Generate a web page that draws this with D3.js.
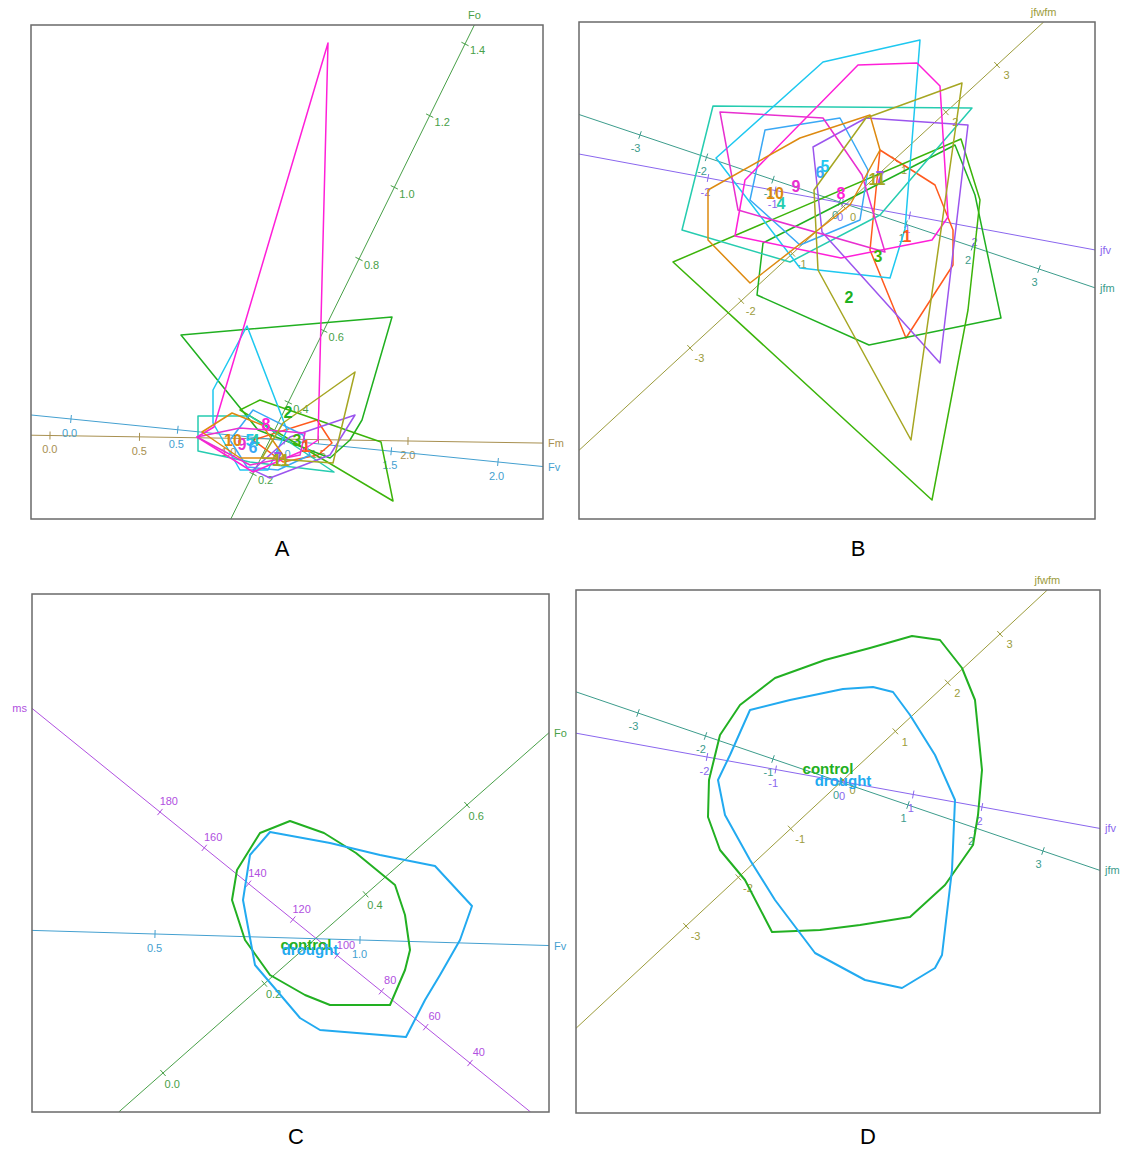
<!DOCTYPE html>
<html><head><meta charset="utf-8">
<script src="https://cdn.jsdelivr.net/npm/d3@7"></script>
<style>body{margin:0;background:#fff}svg{display:block}</style>
</head><body><svg id="c" width="1121" height="1149"></svg>
<script>
// ---------------- DATA ----------------
const groupNames = ["1","2","3","4","5","6","7","8","9","10","11"];
const treatmentNames = ["control","drought"];

// Panel A: convex hulls of groups in biplot units (x, y)
const hullsA = [
  [[0.03,0],[0.67,0.2],[0.82,-0.03],[0.68,-0.15],[0.33,-0.22]],
  [[-0.69,1.05],[1.42,1.23],[1.12,0.2],[1.0,0],[0.8,-0.18],[0.08,0.1]],
  [[-0.1,0.3],[0.1,0.4],[1.31,-0.02],[1.43,-0.61]],
  [[-0.52,0.24],[0,0.24],[0.84,-0.32],[0,-0.22],[-0.52,-0.11]],
  [[-0.03,1.14],[0.37,0.1],[0.18,-0.3],[-0.1,-0.3],[-0.37,0.17],[-0.37,0.5]],
  [[0.03,0.3],[0.53,0.05],[0.6,-0.15],[0.28,-0.3],[-0.03,-0.27],[-0.2,0]],
  [[0.4,0.03],[1.05,0.25],[0.8,-0.15],[0.2,-0.38],[0.03,-0.3]],
  [[0.78,3.97],[0.68,0],[0.5,-0.12],[0.03,-0.32],[-0.53,0.03],[-0.36,0.13]],
  [[-0.53,0.03],[-0.1,0.12],[0.55,0.07],[0.5,-0.15],[0,-0.25]],
  [[-0.48,0.08],[-0.18,0.27],[0.12,0.15],[0.35,-0.18],[-0.1,-0.18]],
  [[1.05,0.68],[0.33,0.17],[0.12,-0.18],[0.83,-0.23]]
];
const labelPosA = [[0.56,-0.06],[0.38,0.28],[0.47,0],[0.05,0],[0,0],[0.03,-0.07],[0.28,-0.18],[0.16,0.16],[-0.08,-0.04],[-0.17,0],[0.31,-0.2]];

// Panel B
const hullsB = [
  [[0.39,0.55],[0.94,0.20],[1.12,-0.25],[1.12,-0.60],[0.65,-1.33],[0.29,-0.45]],
  [[-0.84,-0.90],[-0.78,-0.38],[1.14,0.60],[1.34,0.10],[1.60,-1.13],[0.28,-1.40]],
  [[-1.68,-0.57],[1.20,0.66],[1.39,0.05],[1.27,-1.05],[0.91,-2.95]],
  [[-1.28,0.99],[1.31,0.97],[0.39,-0.10],[-0.51,-0.57],[-1.59,-0.25]],
  [[0.79,1.65],[-0.18,1.43],[-1.25,0.47],[-0.41,-0.63],[0.49,-0.73],[0.64,-0.24]],
  [[-0.76,0.75],[-0.01,0.87],[0.27,0.35],[0.19,-0.15],[-0.41,-0.40],[-0.91,0.05]],
  [[0.25,0.87],[1.27,0.80],[0.99,-1.58],[-0.19,-0.27],[-0.28,0.58]],
  [[0.17,1.40],[0.76,1.42],[0.99,1.19],[1.07,-0.12],[0.91,-0.35],[0,-0.53],[-1.06,-0.31],[-0.96,0.25]],
  [[-1.21,0.93],[-0.18,0.87],[0.21,0.30],[0.44,-0.47],[-1.03,-0.05]],
  [[-1.33,0.15],[-0.41,0.67],[0.29,0.90],[0.39,0.55],[0.09,0],[-0.91,-0.78],[-1.33,-0.35]],
  [[1.21,1.22],[0.25,0.87],[-0.27,0.15],[-0.23,-0.65],[0.70,-2.35]]
];
const labelPosB = [[0.66,-0.31],[0.08,-0.92],[0.37,-0.51],[-0.60,0.02],[-0.16,0.39],[-0.21,0.33],[0.39,0.28],[0,0.12],[-0.45,0.19],[-0.66,0.12],[0.36,0.26]];

// Panel C (treatments)
const hullsC = [
  [[-0.10,1.19],[0.24,1.07],[0.56,0.87],[0.95,0.55],[1.05,0.25],[1.10,-0.10],[1.05,-0.30],[0.90,-0.65],[0.30,-0.65],[0.05,-0.55],[-0.30,-0.35],[-0.55,0],[-0.68,0.40],[-0.63,0.70],[-0.40,1.07]],
  [[-0.30,1.08],[0.30,0.97],[0.80,0.85],[1.35,0.74],[1.72,0.34],[1.60,0],[1.40,-0.35],[1.25,-0.60],[1.06,-0.97],[0.20,-0.90],[0,-0.78],[-0.45,-0.25],[-0.57,0.40],[-0.50,0.85]]
];
const labelPosC = [[0.06,-0.04],[0.10,-0.09]];

// Panel D (treatments)
const hullsD = [
  [[0.72,1.44],[1.00,1.40],[1.22,1.12],[1.35,0.80],[1.42,0.10],[1.38,-0.35],[1.33,-0.65],[1.05,-1.05],[0.70,-1.37],[0.20,-1.45],[-0.20,-1.50],[-0.68,-1.52],[-0.95,-1.00],[-1.20,-0.70],[-1.32,-0.37],[-1.31,0],[-1.20,0.45],[-1.00,0.75],[-0.65,1.02],[-0.15,1.20],[0.30,1.32]],
  [[0.03,0.91],[0.33,0.93],[0.53,0.88],[0.70,0.65],[0.95,0.25],[1.15,-0.20],[1.12,-0.90],[1.02,-1.75],[0.95,-1.88],[0.62,-2.08],[0.25,-2.00],[-0.25,-1.73],[-0.65,-1.20],[-0.90,-0.80],[-1.15,-0.35],[-1.22,0],[-1.10,0.25],[-0.90,0.70],[-0.50,0.80]]
];
const labelPosD = [[-0.12,0.12],[0.03,0.0]];

// Biplot axes: names, tick values, decimals, calibration [value, x, y] at two ticks
const axisNamesA = ["Fm","Fv","Fo"];
const axisTicksA = [[0,0.5,1,1.5,2],[0,0.5,1,1.5,2],[0.2,0.4,0.6,0.8,1.0,1.2,1.4]];
const axisDecA = [1,1,1];
const axisCalA = [[[0,-2.0,0.045],[2,1.58,-0.01]],[[0,-1.79,0.21],[2,2.48,-0.22]],[[0.2,0.03,-0.34],[1.4,2.15,3.96]]];

const axisNamesB = ["jfwfm","jfm","jfv"];
const axisTicksB = [[-3,-2,-1,0,1,2,3],[-3,-2,-1,0,1,2,3],[-2,-1,0,1,2]];
const axisDecB = [0,0,0];
const axisCalB = [[[-3,-1.51,-1.43],[3,1.56,1.40]],[[-3,-2.01,0.70],[3,1.98,-0.64]],[[-2,-1.33,0.27],[2,1.36,-0.23]]];

const axisNamesC = ["ms","Fo","Fv"];
const axisTicksC = [[40,60,80,100,120,140,160,180],[0,0.2,0.4,0.6],[0.5,1.0]];
const axisDecC = [0,1,1];
const axisCalC = [[[180,-1.40,1.28],[40,1.70,-1.23]],[[0,-1.37,-1.33],[0.6,1.67,1.35]],[[0.5,-1.45,0.06],[1.0,0.60,0]]];

const axisNamesD = ["jfwfm","jfm","jfv"];
const axisTicksD = [[-3,-2,-1,0,1,2,3],[-3,-2,-1,0,1,2,3],[-2,-1,0,1,2]];
const axisDecD = [0,0,0];
const axisCalD = [[[-3,-1.54,-1.46],[3,1.60,1.46]],[[-3,-2.02,0.67],[3,2.03,-0.71]],[[-2,-1.33,0.23],[2,1.42,-0.27]]];

const panelLetters = ["A","B","C","D"];

// ---------------- STYLE ----------------
const groupColors = ["#ff5a1e","#20b020","#3cb40a","#26ccb0","#1ec8f0","#3aa8f5","#9b55ee","#ff1fd8","#e82fd0","#dd8a10","#a6a622"];
const treatmentColors = ["#22b022","#22aaf0"];
const axisColor = {Fm:"#a89050",Fv:"#44a0d0",Fo:"#48a048",ms:"#b050e0",jfwfm:"#9c9c3c",jfm:"#3c9c8c",jfv:"#8a66ee"};

const svg = d3.select("#c");
svg.append("rect").attr("width",1121).attr("height",1149).attr("fill","#fff");

const panels = [
  {id:"A", frame:[31,25,543,519], origin:[250,440], unit:100, hulls:hullsA, lpos:labelPosA, names:groupNames, colors:groupColors, an:axisNamesA, at:axisTicksA, ad:axisDecA, ac:axisCalA, sw:1.5, fs:16, letter:[282,548]},
  {id:"B", frame:[579,22,1095,519], origin:[841,205], unit:100, hulls:hullsB, lpos:labelPosB, names:groupNames, colors:groupColors, an:axisNamesB, at:axisTicksB, ad:axisDecB, ac:axisCalB, sw:1.5, fs:16, letter:[858,548]},
  {id:"C", frame:[32,594,549,1112], origin:[300,940], unit:100, hulls:hullsC, lpos:labelPosC, names:treatmentNames, colors:treatmentColors, an:axisNamesC, at:axisTicksC, ad:axisDecC, ac:axisCalC, sw:2, fs:15, letter:[296,1136]},
  {id:"D", frame:[576,590,1100,1113], origin:[840,780], unit:100, hulls:hullsD, lpos:labelPosD, names:treatmentNames, colors:treatmentColors, an:axisNamesD, at:axisTicksD, ad:axisDecD, ac:axisCalD, sw:2, fs:15, letter:[868,1136]}
];

const FONT = "'Liberation Sans', Arial, sans-serif";

panels.forEach((p,pi) => {
  const [L,T,R,B] = p.frame;
  const g = svg.append("g");
  const x = d3.scaleLinear().domain([0,1]).range([p.origin[0], p.origin[0]+p.unit]);
  const y = d3.scaleLinear().domain([0,1]).range([p.origin[1], p.origin[1]-p.unit]);
  const clipId = "clip"+p.id;
  g.append("clipPath").attr("id",clipId).append("rect")
    .attr("x",L).attr("y",T).attr("width",R-L).attr("height",B-T);
  g.append("rect").attr("x",L).attr("y",T).attr("width",R-L).attr("height",B-T).attr("fill","#fff");
  const inner = g.append("g").attr("clip-path",`url(#${clipId})`);
  const axisLayer = inner.append("g");
  const hullLayer = inner.append("g");
  const labelLayer = inner.append("g");

  p.an.forEach((name,i) => {
    const col = axisColor[name];
    const [[v0,x0,y0],[v1,x1,y1]] = p.ac[i];
    const P0 = [x(x0), y(y0)], P1 = [x(x1), y(y1)];
    const D = [(P1[0]-P0[0])/(v1-v0), (P1[1]-P0[1])/(v1-v0)];
    const pos = v => [P0[0]+(v-v0)*D[0], P0[1]+(v-v0)*D[1]];
    const exit = dir => {
      let tx = Infinity, ty = Infinity;
      if (dir[0] > 0) tx = (R-P0[0])/dir[0]; else if (dir[0] < 0) tx = (L-P0[0])/dir[0];
      if (dir[1] > 0) ty = (B-P0[1])/dir[1]; else if (dir[1] < 0) ty = (T-P0[1])/dir[1];
      return {t: Math.min(tx,ty), edge: tx < ty ? (dir[0] > 0 ? "right" : "left") : (dir[1] > 0 ? "bottom" : "top")};
    };
    const eP = exit(D), eM = exit([-D[0],-D[1]]);
    const E1 = [P0[0]+eP.t*D[0], P0[1]+eP.t*D[1]];
    const E2 = [P0[0]-eM.t*D[0], P0[1]-eM.t*D[1]];
    axisLayer.append("line").attr("x1",E2[0]).attr("y1",E2[1]).attr("x2",E1[0]).attr("y2",E1[1])
      .attr("stroke",col).attr("stroke-width",1);
    const len = Math.hypot(D[0],D[1]);
    const u = [D[0]/len, D[1]/len], n = [-u[1], u[0]];
    p.at[i].forEach(v => {
      const q = pos(v);
      if (q[0] < L || q[0] > R || q[1] < T || q[1] > B) return;
      axisLayer.append("line").attr("x1",q[0]-4*n[0]).attr("y1",q[1]-4*n[1])
        .attr("x2",q[0]+4*n[0]).attr("y2",q[1]+4*n[1]).attr("stroke",col).attr("stroke-width",1);
      axisLayer.append("text").attr("x",q[0]+14*n[0]).attr("y",q[1]+14*n[1])
        .attr("text-anchor","middle").attr("dominant-baseline","central")
        .attr("font-family",FONT).attr("font-size",11).attr("fill",col)
        .text(v.toFixed(p.ad[i]));
    });
    let lx = E1[0], ly = E1[1], anchor = "middle";
    if (eP.edge === "top") { ly = T - 10; }
    else if (eP.edge === "bottom") { ly = B + 10; }
    else if (eP.edge === "right") { lx = R + 5; anchor = "start"; }
    else { lx = L - 5; anchor = "end"; }
    g.append("text").attr("x",lx).attr("y",ly).attr("text-anchor",anchor)
      .attr("dominant-baseline","central").attr("font-family",FONT).attr("font-size",11)
      .attr("fill",col).text(name);
  });

  const line = d3.line().x(d => x(d[0])).y(d => y(d[1])).curve(d3.curveLinearClosed);
  p.hulls.forEach((h,i) => {
    hullLayer.append("path").attr("d",line(h)).attr("fill","none")
      .attr("stroke",p.colors[i]).attr("stroke-width",p.sw).attr("stroke-linejoin","round");
  });
  p.lpos.forEach((lp,i) => {
    labelLayer.append("text").attr("x",x(lp[0])).attr("y",y(lp[1]))
      .attr("text-anchor","middle").attr("dominant-baseline","central")
      .attr("font-family",FONT).attr("font-weight","bold").attr("font-size",p.fs)
      .attr("fill",p.colors[i]).text(p.names[i]);
  });

  g.append("rect").attr("x",L).attr("y",T).attr("width",R-L).attr("height",B-T)
    .attr("fill","none").attr("stroke","#6a6a6a").attr("stroke-width",1.5);
  svg.append("text").attr("x",p.letter[0]).attr("y",p.letter[1]).attr("text-anchor","middle")
    .attr("dominant-baseline","central").attr("font-family",FONT).attr("font-size",22)
    .attr("fill","#000").text(panelLetters[pi]);
});
</script>
</body></html>
